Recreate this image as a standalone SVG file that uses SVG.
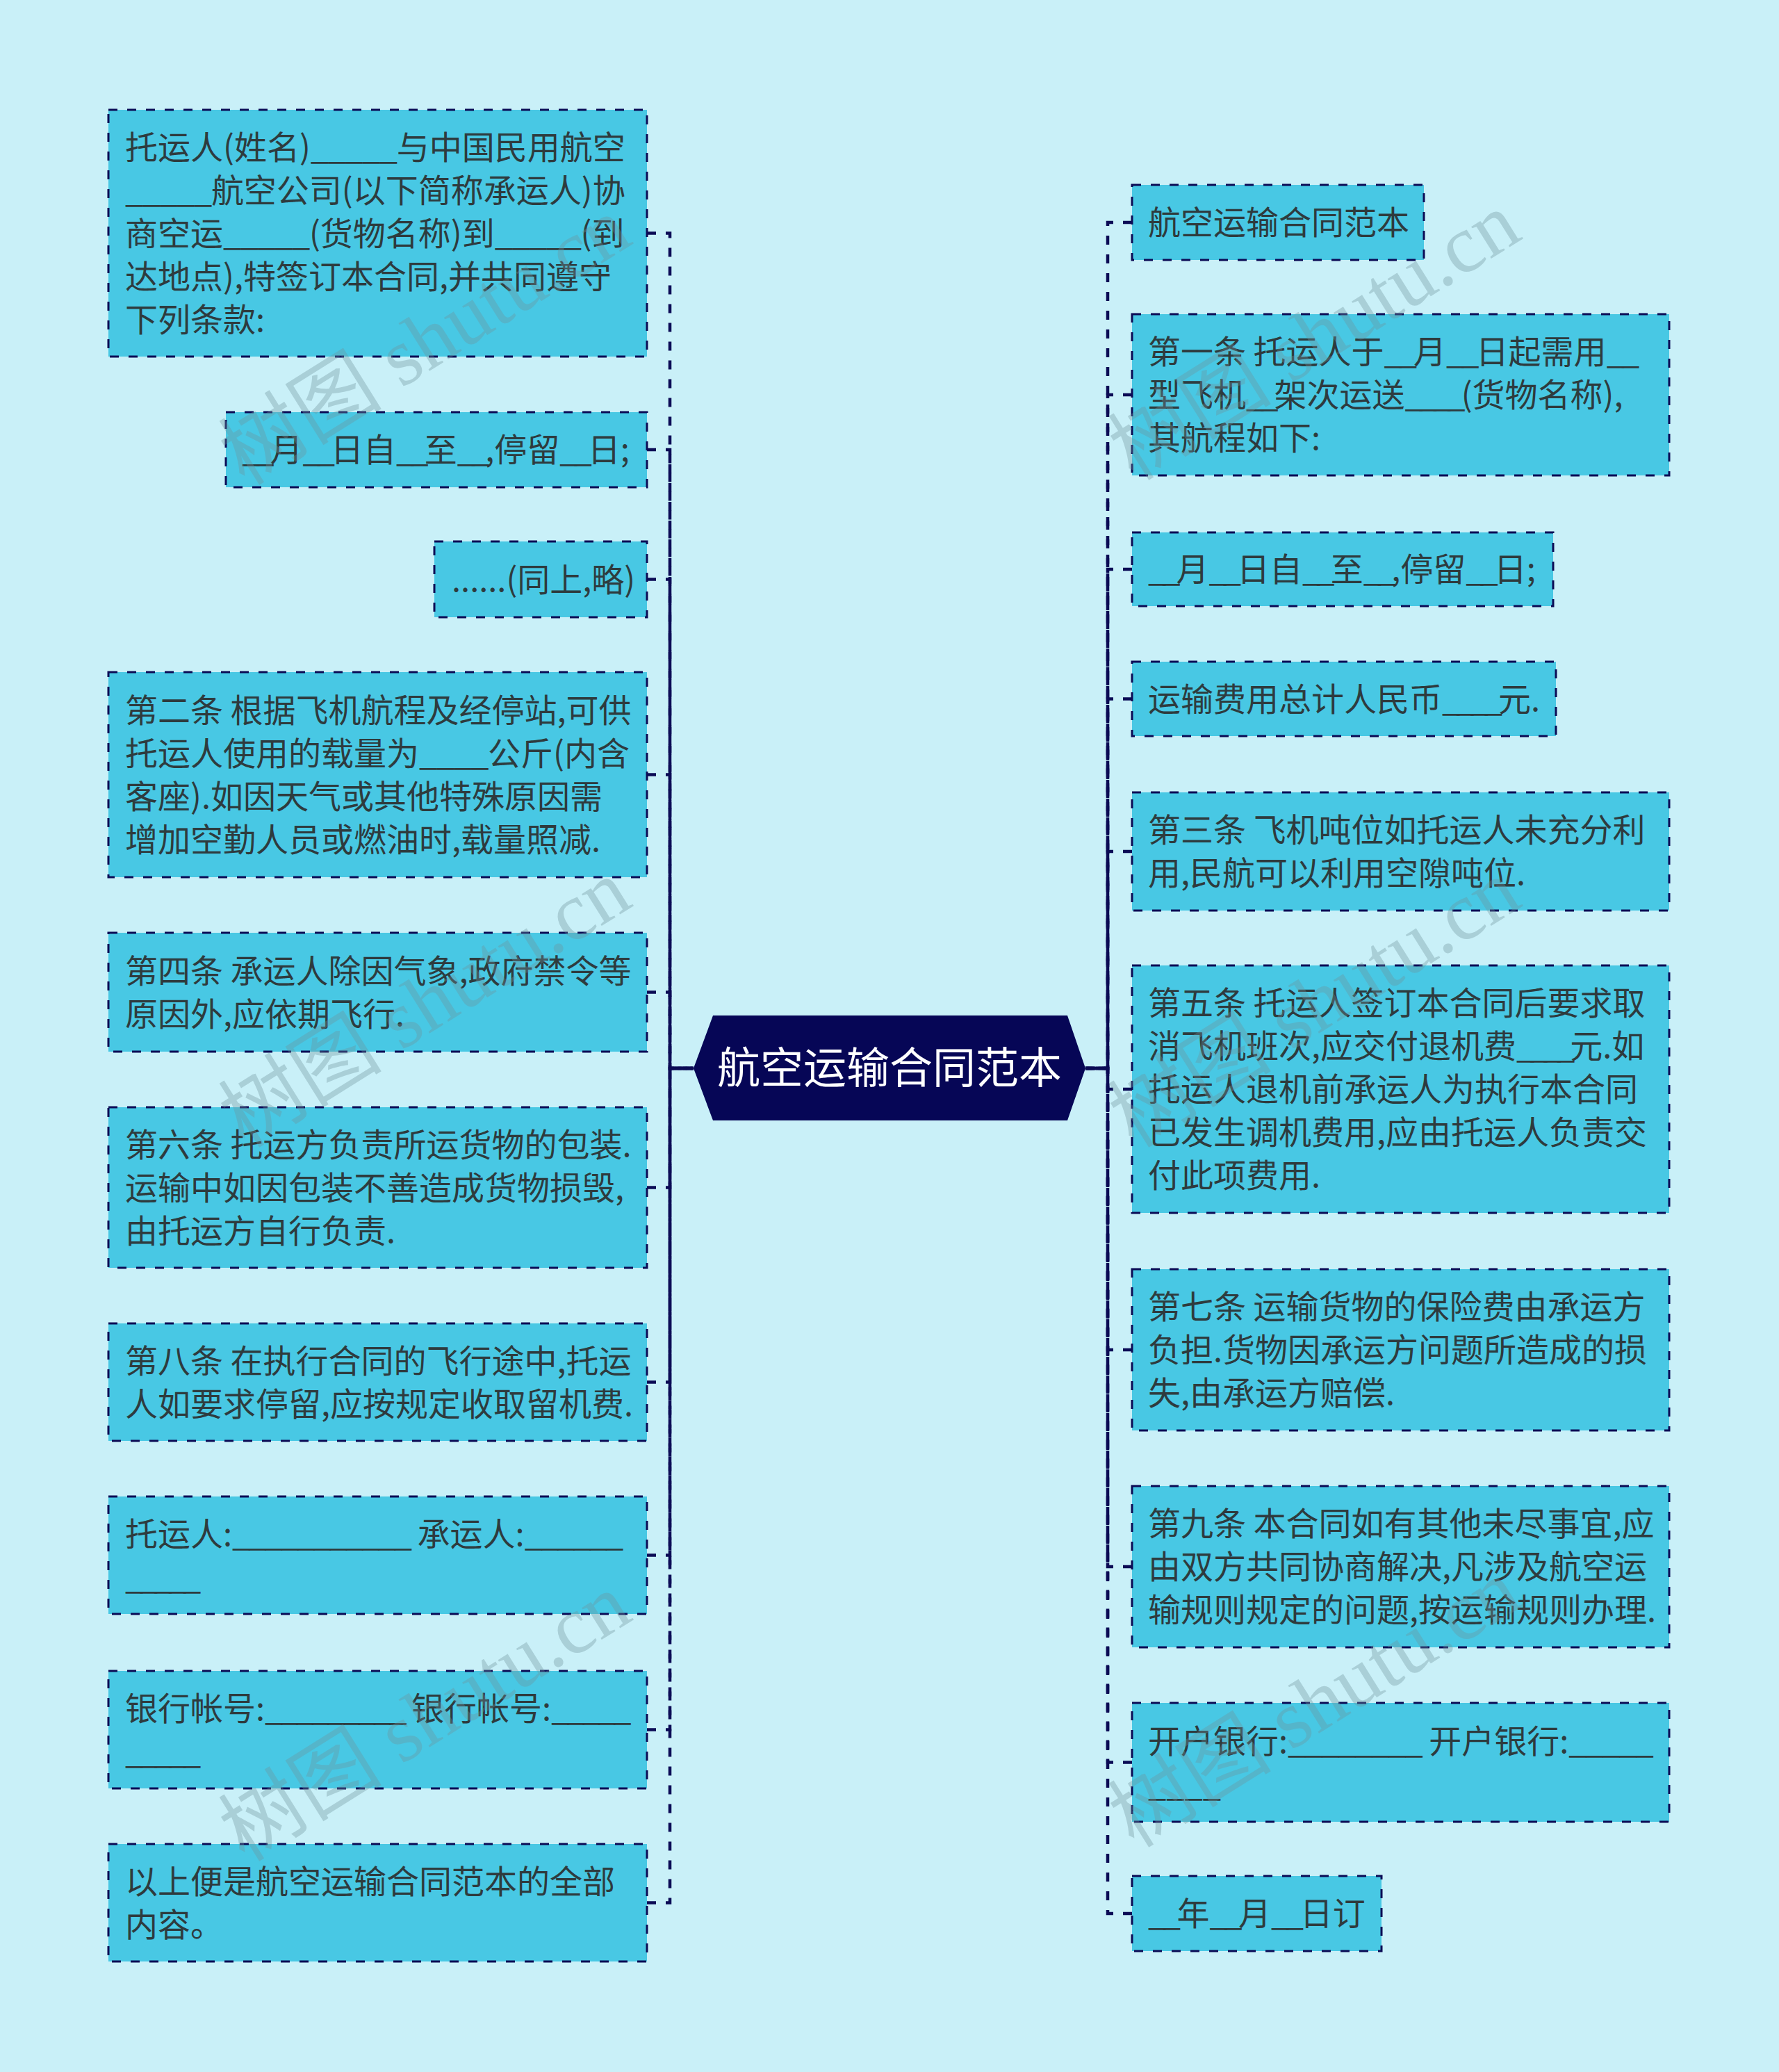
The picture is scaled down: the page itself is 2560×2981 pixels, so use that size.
<svg xmlns="http://www.w3.org/2000/svg" width="2560" height="2981" viewBox="0 0 2560 2981">
<style>
.bg{fill:#C9F0F8}
.box{fill:#48C8E4;stroke:#0B0B55;stroke-width:3;stroke-dasharray:13 14}
.t{font-family:"Noto Sans CJK SC","Noto Sans",sans-serif;font-size:47px;fill:#2E3B3E}
.title{font-family:"Noto Sans CJK SC","Noto Sans",sans-serif;font-size:62px;fill:#FFFFFF;text-anchor:middle}
.c{fill:none;stroke:#0B0B55;stroke-width:4.5;stroke-dasharray:13 14}
.wm{font-family:"Liberation Serif","Noto Sans CJK SC",serif;font-size:118px;fill:#6F939C;opacity:0.35}
.u1{letter-spacing:-1.5px}
.u2{letter-spacing:-2.2px}
.u3{letter-spacing:-3px}
.u4{letter-spacing:-4px}
.u5{letter-spacing:-5px}
.u55{letter-spacing:-5.5px}
.u6{letter-spacing:-6px}
.u7{letter-spacing:-7px}
</style>
<rect class="bg" x="0" y="0" width="2560" height="2981"/>
<g id="connectors">
<path class="c" d="M931,335.5H964V1537H998"/>
<path class="c" d="M931,647H964V1537H998"/>
<path class="c" d="M931,833.5H964V1537H998"/>
<path class="c" d="M931,1114.5H964V1537H998"/>
<path class="c" d="M931,1427.5H964V1537H998"/>
<path class="c" d="M931,1708.5H964V1537H998"/>
<path class="c" d="M931,1988.5H964V1537H998"/>
<path class="c" d="M931,2237.5H964V1537H998"/>
<path class="c" d="M931,2488.5H964V1537H998"/>
<path class="c" d="M931,2737.5H964V1537H998"/>
<path class="c" d="M1629,320H1594V1537H1562"/>
<path class="c" d="M1629,568H1594V1537H1562"/>
<path class="c" d="M1629,819H1594V1537H1562"/>
<path class="c" d="M1629,1005.5H1594V1537H1562"/>
<path class="c" d="M1629,1225H1594V1537H1562"/>
<path class="c" d="M1629,1567H1594V1537H1562"/>
<path class="c" d="M1629,1942H1594V1537H1562"/>
<path class="c" d="M1629,2254H1594V1537H1562"/>
<path class="c" d="M1629,2535.5H1594V1537H1562"/>
<path class="c" d="M1629,2753H1594V1537H1562"/>
</g>
<g id="center">
<polygon points="998,1537 1026,1461 1536,1461 1562,1537 1536,1612 1026,1612" fill="#060656"/>
<text class="title" x="1280" y="1559">航空运输合同范本</text>
</g>
<g id="L1"><rect class="box" x="156" y="158" width="775" height="355"/>
<text class="t" x="180" y="229">托运人(姓名)<tspan class="u1">_____</tspan>与中国民用航空</text>
<text class="t" x="180" y="291"><tspan class="u1">_____</tspan>航空公司(以下简称承运人)协</text>
<text class="t" x="180" y="353">商空运<tspan class="u1">_____</tspan>(货物名称)到<tspan class="u1">_____</tspan>(到</text>
<text class="t" x="180" y="415">达地点),特签订本合同,并共同遵守</text>
<text class="t" x="180" y="477">下列条款:</text></g>
<g id="L2"><rect class="box" x="325" y="593" width="606" height="108"/>
<text class="t" x="348" y="664"><tspan class="u6">__</tspan>月<tspan class="u6">__</tspan>日自<tspan class="u6">__</tspan>至<tspan class="u6">__</tspan>,停留<tspan class="u6">__</tspan>日;</text></g>
<g id="L3"><rect class="box" x="625" y="779" width="306" height="109"/>
<text class="t" x="650" y="851">......(同上,略)</text></g>
<g id="L4"><rect class="box" x="156" y="967" width="775" height="295"/>
<text class="t" x="180" y="1039">第二条 根据飞机航程及经停站,可供</text>
<text class="t" x="180" y="1101">托运人使用的载量为<tspan class="u1">____</tspan>公斤(内含</text>
<text class="t" x="180" y="1163">客座).如因天气或其他特殊原因需</text>
<text class="t" x="180" y="1225">增加空勤人员或燃油时,载量照减.</text></g>
<g id="L5"><rect class="box" x="156" y="1342" width="775" height="171"/>
<text class="t" x="180" y="1414">第四条 承运人除因气象,政府禁令等</text>
<text class="t" x="180" y="1476">原因外,应依期飞行.</text></g>
<g id="L6"><rect class="box" x="156" y="1593" width="775" height="231"/>
<text class="t" x="180" y="1664">第六条 托运方负责所运货物的包装.</text>
<text class="t" x="180" y="1726">运输中如因包装不善造成货物损毁,</text>
<text class="t" x="180" y="1788">由托运方自行负责.</text></g>
<g id="L7"><rect class="box" x="156" y="1904" width="775" height="169"/>
<text class="t" x="180" y="1975">第八条 在执行合同的飞行途中,托运</text>
<text class="t" x="180" y="2037">人如要求停留,应按规定收取留机费.</text></g>
<g id="L8"><rect class="box" x="156" y="2153" width="775" height="169"/>
<text class="t" x="180" y="2224">托运人:<tspan class="u3">___________</tspan> 承运人:<tspan class="u3">______</tspan></text>
<text class="t" x="180" y="2286"><tspan class="u55">_____</tspan></text></g>
<g id="L9"><rect class="box" x="156" y="2404" width="775" height="169"/>
<text class="t" x="180" y="2475">银行帐号:<tspan class="u4">_________</tspan> 银行帐号:<tspan class="u4">_____</tspan></text>
<text class="t" x="180" y="2537"><tspan class="u55">_____</tspan></text></g>
<g id="L10"><rect class="box" x="156" y="2653" width="775" height="169"/>
<text class="t" x="180" y="2724">以上便是航空运输合同范本的全部</text>
<text class="t" x="180" y="2786">内容。</text></g>
<g id="R1"><rect class="box" x="1629" y="266" width="420" height="108"/>
<text class="t" x="1652" y="337">航空运输合同范本</text></g>
<g id="R2"><rect class="box" x="1629" y="452" width="773" height="232"/>
<text class="t" x="1652" y="523">第一条 托运人于<tspan class="u5">__</tspan>月<tspan class="u5">__</tspan>日起需用<tspan class="u5">__</tspan></text>
<text class="t" x="1652" y="585">型飞机<tspan class="u6">__</tspan>架次运送<tspan class="u6">____</tspan>(货物名称),</text>
<text class="t" x="1652" y="647">其航程如下:</text></g>
<g id="R3"><rect class="box" x="1629" y="766" width="606" height="106"/>
<text class="t" x="1652" y="836"><tspan class="u6">__</tspan>月<tspan class="u6">__</tspan>日自<tspan class="u6">__</tspan>至<tspan class="u6">__</tspan>,停留<tspan class="u6">__</tspan>日;</text></g>
<g id="R4"><rect class="box" x="1629" y="952" width="610" height="107"/>
<text class="t" x="1652" y="1023">运输费用总计人民币<tspan class="u6">____</tspan>元.</text></g>
<g id="R5"><rect class="box" x="1629" y="1140" width="773" height="170"/>
<text class="t" x="1652" y="1211">第三条 飞机吨位如托运人未充分利</text>
<text class="t" x="1652" y="1273">用,民航可以利用空隙吨位.</text></g>
<g id="R6"><rect class="box" x="1629" y="1389" width="773" height="356"/>
<text class="t" x="1652" y="1460">第五条 托运人签订本合同后要求取</text>
<text class="t" x="1652" y="1522">消飞机班次,应交付退机费<tspan class="u7">____</tspan>元.如</text>
<text class="t" x="1652" y="1584">托运人退机前承运人为执行本合同</text>
<text class="t" x="1652" y="1646">已发生调机费用,应由托运人负责交</text>
<text class="t" x="1652" y="1708">付此项费用.</text></g>
<g id="R7"><rect class="box" x="1629" y="1826" width="773" height="232"/>
<text class="t" x="1652" y="1897">第七条 运输货物的保险费由承运方</text>
<text class="t" x="1652" y="1959">负担.货物因承运方问题所造成的损</text>
<text class="t" x="1652" y="2021">失,由承运方赔偿.</text></g>
<g id="R8"><rect class="box" x="1629" y="2138" width="773" height="232"/>
<text class="t" x="1652" y="2209">第九条 本合同如有其他未尽事宜,应</text>
<text class="t" x="1652" y="2271">由双方共同协商解决,凡涉及航空运</text>
<text class="t" x="1652" y="2333">输规则规定的问题,按运输规则办理.</text></g>
<g id="R9"><rect class="box" x="1629" y="2450" width="773" height="171"/>
<text class="t" x="1652" y="2522">开户银行:<tspan class="u2">________</tspan> 开户银行:<tspan class="u2">_____</tspan></text>
<text class="t" x="1652" y="2584">____</text></g>
<g id="R10"><rect class="box" x="1629" y="2699" width="359" height="108"/>
<text class="t" x="1652" y="2770"><tspan class="u55">__</tspan>年<tspan class="u55">__</tspan>月<tspan class="u55">__</tspan>日订</text></g>
<g id="watermarks">
<text class="wm" transform="translate(352,700) rotate(-32)">树图 shutu.cn</text>
<text class="wm" transform="translate(1632,693) rotate(-32)">树图 shutu.cn</text>
<text class="wm" transform="translate(352,1653) rotate(-32)">树图 shutu.cn</text>
<text class="wm" transform="translate(1632,1653) rotate(-32)">树图 shutu.cn</text>
<text class="wm" transform="translate(352,2680) rotate(-32)">树图 shutu.cn</text>
<text class="wm" transform="translate(1632,2660) rotate(-32)">树图 shutu.cn</text>
</g>
</svg>
